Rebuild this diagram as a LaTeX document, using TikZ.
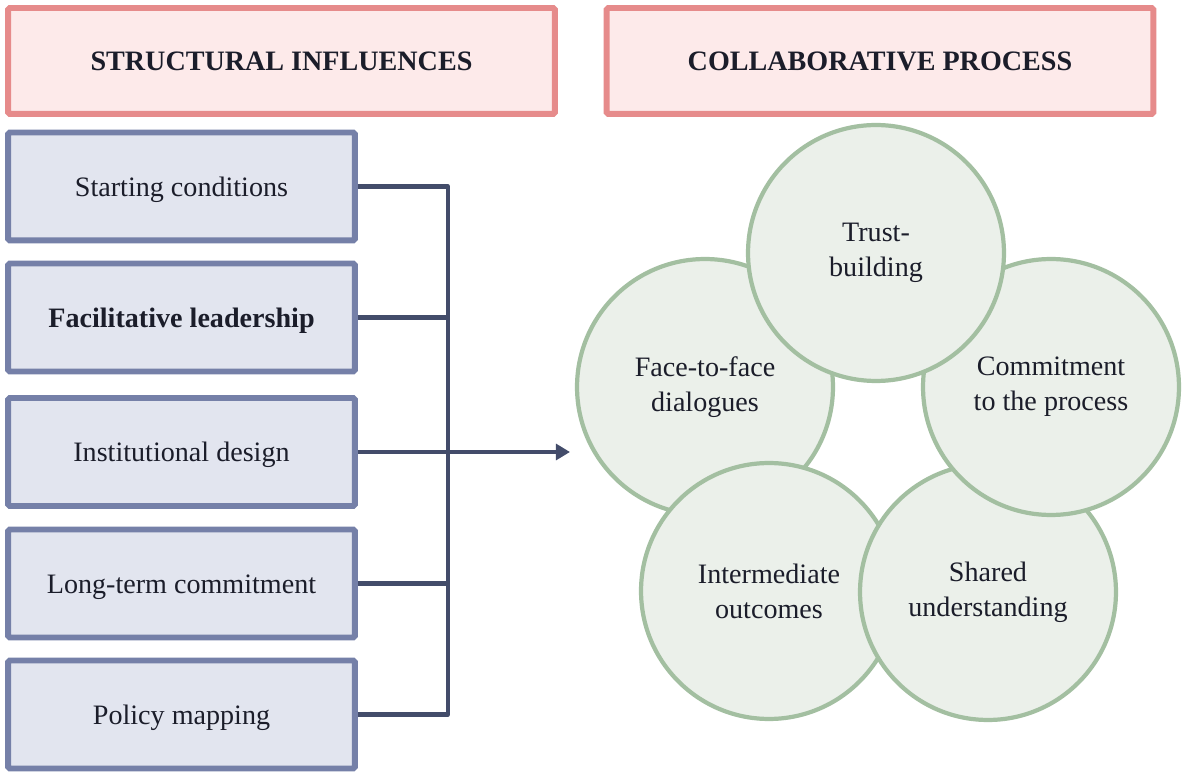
\documentclass[tikz,border=0pt]{standalone}
\usepackage{fontspec}
\setmainfont{Liberation Serif}
\usetikzlibrary{arrows.meta}

\definecolor{headfill}{HTML}{FDEAEA}
\definecolor{headline}{HTML}{E68B8B}
\definecolor{boxfill}{HTML}{E2E5EF}
\definecolor{boxline}{HTML}{7580A8}
\definecolor{wire}{HTML}{434C6A}
\definecolor{ringfill}{HTML}{EBF0EA}
\definecolor{ringline}{HTML}{A3BFA1}
\definecolor{ink}{HTML}{1B1D2A}

\begin{document}
\begin{tikzpicture}[x=0.02cm, y=-0.02cm,
    every node/.style={text=ink, font=\fontsize{16}{20}\selectfont},
    header/.style={draw=headline, fill=headfill, line width=3.4pt, rounded corners=1pt,
        minimum width=10.94cm, minimum height=2.12cm, text height=13pt, text depth=2pt,
        font=\fontsize{16}{20}\selectfont\bfseries},
    influence/.style={draw=boxline, fill=boxfill, line width=3.4pt, rounded corners=1pt,
        minimum width=6.94cm, minimum height=2.16cm, text height=13pt, text depth=2pt},
    stage/.style={circle, draw=ringline, fill=ringfill, line width=2.4pt,
        minimum size=5.12cm, align=center, inner sep=0pt},
    link/.style={draw=wire, line width=2.4pt}]
    \useasboundingbox (0,0) rectangle (1184,773);

    % column headings
    \node[header] (left)  at (281.5,61) {STRUCTURAL INFLUENCES};
    \node[header] (right) at (880,61) {COLLABORATIVE PROCESS};

    % structural influences
    \node[influence] (s1) at (181.5,186.5) {Starting conditions};
    \node[influence] (s2) at (181.5,317.5) {\textbf{Facilitative leadership}};
    \node[influence] (s3) at (181.5,452) {Institutional design};
    \node[influence] (s4) at (181.5,583.5) {Long-term commitment};
    \node[influence] (s5) at (181.5,714.5) {Policy mapping};

    % process cycle, drawn back to front
    \node[stage] (face)   at (705,387) {Face-to-face\\dialogues};
    \node[stage] (inter)  at (769,591) {Intermediate\\outcomes};
    \node[stage] (shared) at (988,592) {Shared\\understanding};
    \node[stage] (commit) at (1051,387) {Commitment\\to the process};
    \node[stage] (trust)  at (876,253) {Trust-\\building};

    % bus joining the influences
    \coordinate (bus) at (448,0);
    \coordinate (tip) at (570,0);
    \draw[link, line join=round] (s1.east) -- (s1.east -| bus) -- (s5.east -| bus) -- (s5.east);
    \foreach \s in {s2,s4}
        \draw[link] (\s.east) -- (\s.east -| bus);
    \draw[link, -{Triangle[length=8pt,width=9pt]}] (s3.east) -- (s3.east -| tip);
\end{tikzpicture}
\end{document}
